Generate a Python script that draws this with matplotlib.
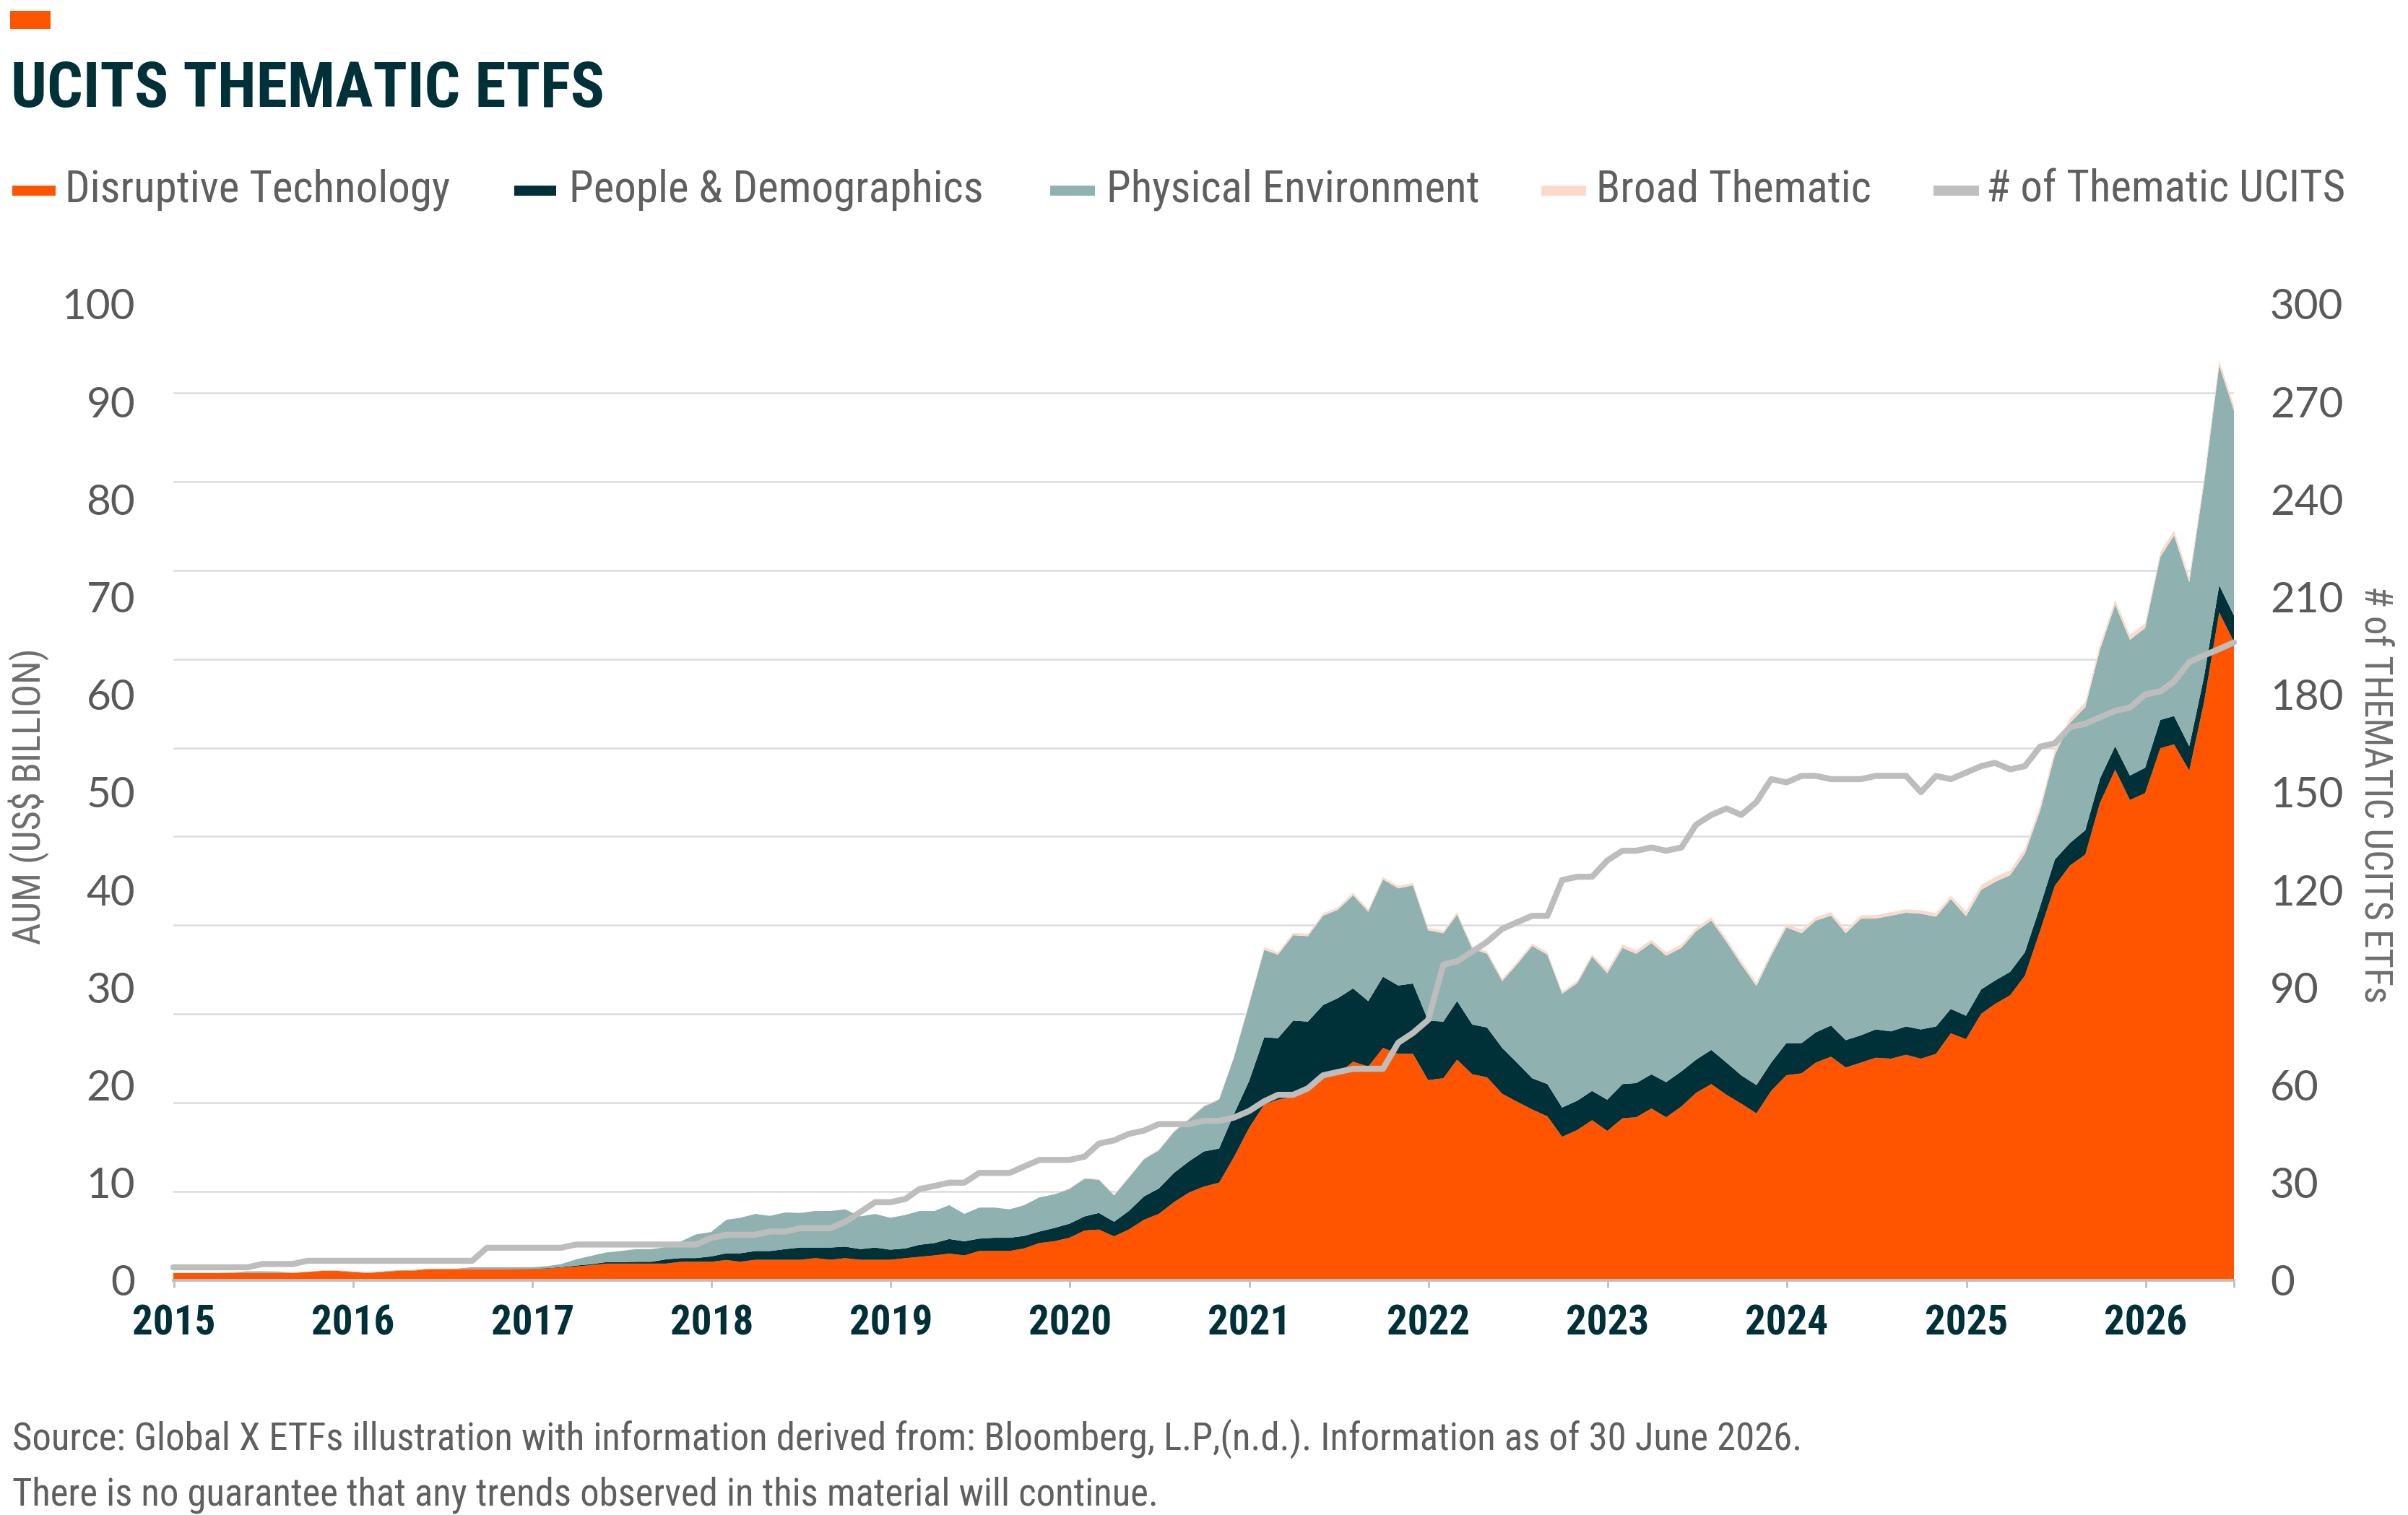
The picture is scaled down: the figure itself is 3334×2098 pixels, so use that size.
import matplotlib
matplotlib.use('Agg')
import matplotlib.pyplot as plt
import matplotlib.dates as mdates
from matplotlib import font_manager
from matplotlib.patches import Rectangle
from matplotlib.ticker import FixedLocator, MultipleLocator
import numpy as np
import pandas as pd

# month-end observations, Dec 2014 .. Jun 2026 (AUM in US$ bn)
dates = pd.date_range('2014-12-31', '2026-06-30', freq='ME')

disruptive = [0.75,
    0.75, 0.75, 0.75, 0.75, 0.75, 0.75, 0.75, 0.75, 0.85, 0.97, 0.97, 0.85,   # 2015
    0.75, 0.85, 0.97, 0.97, 1.14, 1.14, 1.14, 1.14, 1.14, 1.14, 1.14, 1.14,   # 2016
    1.2, 1.3, 1.41, 1.55, 1.71, 1.71, 1.71, 1.71, 1.71, 1.9, 1.9, 1.9,        # 2017
    2.08, 1.9, 2.1, 2.1, 2.1, 2.1, 2.27, 2.1, 2.27, 2.1, 2.1, 2.1,            # 2018
    2.27, 2.4, 2.55, 2.73, 2.55, 3.0, 3.0, 3.0, 3.27, 3.82, 4.0, 4.36,        # 2019
    5.1, 5.2, 4.5, 5.2, 6.2, 6.8, 8.0, 9.0, 9.6, 10.0, 12.6, 15.6,            # 2020
    18.0, 18.5, 18.8, 19.4, 20.8, 21.1, 22.4, 21.9, 23.8, 23.2, 23.2, 20.5,   # 2021
    20.7, 22.6, 21.1, 20.8, 19.1, 18.3, 17.5, 16.8, 14.7, 15.4, 16.4, 15.3,   # 2022
    16.6, 16.7, 17.6, 16.7, 17.8, 19.2, 20.1, 19.0, 18.1, 17.1, 19.4, 21.0,   # 2023
    21.2, 22.3, 22.9, 21.8, 22.3, 22.8, 22.7, 23.1, 22.7, 23.2, 25.3, 24.7,   # 2024
    27.3, 28.3, 29.2, 31.2, 35.8, 40.4, 42.5, 43.6, 48.9, 52.3, 49.2, 49.9,   # 2025
    54.5, 54.9, 52.2, 59.2, 68.4, 65.4]                                       # 2026

people = [0,
    0, 0, 0, 0, 0, 0, 0, 0, 0, 0, 0, 0,
    0, 0, 0, 0, 0, 0, 0, 0, 0.01, 0.01, 0.02, 0.03,
    0.05, 0.05, 0.1, 0.1, 0.15, 0.15, 0.19, 0.19, 0.44, 0.38, 0.38, 0.55,
    0.69, 0.87, 0.9, 0.9, 1.1, 1.26, 1.09, 1.26, 1.18, 1.1, 1.26, 1.04,
    1.0, 1.24, 1.27, 1.5, 1.45, 1.27, 1.36, 1.36, 1.28, 1.18, 1.36, 1.44,
    1.45, 1.7, 1.5, 1.9, 2.4, 2.6, 3.0, 3.2, 3.6, 3.5, 4.4, 4.8,
    6.9, 6.3, 7.8, 7.1, 7.4, 7.8, 7.5, 6.7, 7.3, 7.0, 7.2, 6.1,
    5.8, 6.0, 5.1, 5.1, 4.7, 4.0, 3.2, 3.3, 3.0, 3.0, 3.0, 3.2,
    3.5, 3.5, 3.5, 3.6, 3.6, 3.4, 3.5, 3.3, 2.9, 2.9, 2.9, 3.3,
    3.1, 3.1, 3.2, 2.8, 2.8, 2.9, 2.8, 2.9, 3.0, 2.8, 2.5, 2.4,
    2.5, 2.4, 2.4, 2.4, 2.5, 2.7, 2.3, 2.5, 2.5, 2.4, 2.5, 2.6,
    2.9, 2.9, 2.5, 2.6, 2.8, 2.7]

physical = [0,
    0, 0, 0, 0.05, 0.17, 0.17, 0.15, 0.03, 0.02, 0.03, 0.03, 0.05,
    0.05, 0.05, 0.05, 0.08, 0.02, 0.04, 0.06, 0.2, 0.19, 0.19, 0.18, 0.17,
    0.2, 0.31, 0.64, 0.85, 0.99, 1.14, 1.3, 1.3, 1.25, 1.72, 2.42, 2.5,
    3.43, 3.63, 3.8, 3.6, 3.75, 3.54, 3.74, 3.74, 3.82, 3.35, 3.44, 3.26,
    3.43, 3.46, 3.28, 3.47, 2.8, 3.18, 3.09, 2.91, 3.15, 3.5, 3.44, 3.55,
    3.85, 3.4, 2.7, 3.4, 3.8, 3.9, 4.2, 4.3, 4.6, 5.0, 5.8, 7.85,
    8.95, 8.55, 8.75, 8.75, 9.15, 9.05, 9.55, 9.15, 9.95, 9.95, 10.05, 9.25,
    9.05, 8.85, 7.75, 7.55, 6.85, 10.05, 13.55, 13.25, 11.65, 12.05, 13.75, 12.95,
    13.95, 13.25, 13.45, 12.95, 12.65, 13.15, 13.25, 12.35, 11.35, 10.15, 10.95, 11.85,
    11.25, 11.45, 11.25, 10.95, 11.95, 11.35, 11.85, 11.65, 11.85, 11.25, 11.25, 10.2,
    10.2, 10.1, 9.9, 10.1, 9.8, 10.7, 12.3, 12.6, 13.2, 14.5, 13.9, 14.3,
    16.7, 18.5, 16.8, 19.8, 22.5, 21.0]

broad = [0,
    0, 0, 0, 0, 0, 0, 0, 0, 0, 0, 0, 0,
    0, 0, 0, 0, 0, 0, 0, 0, 0, 0, 0, 0,
    0, 0, 0, 0, 0, 0, 0, 0, 0, 0, 0, 0,
    0, 0, 0, 0, 0, 0, 0, 0, 0, 0, 0, 0,
    0, 0, 0, 0, 0, 0, 0, 0, 0, 0, 0, 0.1,
    0.1, 0.1, 0.1, 0.1, 0.1, 0.1, 0.1, 0.1, 0.1, 0.1, 0.1, 0.25,
    0.25, 0.25, 0.25, 0.25, 0.25, 0.25, 0.25, 0.25, 0.25, 0.25, 0.25, 0.25,
    0.25, 0.25, 0.25, 0.25, 0.25, 0.25, 0.25, 0.25, 0.25, 0.25, 0.25, 0.35,
    0.35, 0.35, 0.35, 0.35, 0.35, 0.35, 0.35, 0.35, 0.35, 0.35, 0.35, 0.35,
    0.35, 0.35, 0.35, 0.35, 0.35, 0.35, 0.35, 0.35, 0.35, 0.35, 0.35, 0.5,
    0.5, 0.5, 0.5, 0.5, 0.5, 0.5, 0.5, 0.5, 0.5, 0.5, 0.5, 0.5,
    0.5, 0.5, 0.5, 0.5, 0.5, 0.5]

n_ucits = [4,
    4, 4, 4, 4, 4, 5, 5, 5, 6, 6, 6, 6,
    6, 6, 6, 6, 6, 6, 6, 6, 10, 10, 10, 10,
    10, 10, 11, 11, 11, 11, 11, 11, 11, 11, 11, 13,
    14, 14, 14, 15, 15, 16, 16, 16, 18, 21, 24, 24,
    25, 28, 29, 30, 30, 33, 33, 33, 35, 37, 37, 37,
    38, 42, 43, 45, 46, 48, 48, 48, 49, 49, 50, 52,
    55, 57, 57, 59, 63, 64, 65, 65, 65, 73, 76, 80,
    97, 98, 101, 104, 108, 110, 112, 112, 123, 124, 124, 129,
    132, 132, 133, 132, 133, 140, 143, 145, 143, 147, 154, 153,
    155, 155, 154, 154, 154, 155, 155, 155, 150, 155, 154, 156,
    158, 159, 157, 158, 164, 165, 170, 171, 173, 175, 176, 180,
    181, 184, 190, 192, 194, 196]

labels = ['Disruptive Technology', 'People & Demographics', 'Physical Environment',
          'Broad Thematic', '# of Thematic UCITS']

ORANGE = '#FF5500'
DARK = '#003038'
TEAL = '#8FB2B1'
PINK = '#FCDACB'
GREY = '#BFBFBF'
TXT = '#5F5F5F'

# fonts: condensed face for titles/labels if one is installed
avail = {f.name for f in font_manager.fontManager.ttflist}
COND = next((f for f in ['Roboto Condensed', 'Noto Sans Condensed', 'Open Sans Condensed',
                         'Liberation Sans Narrow', 'Noto Sans', 'Roboto'] if f in avail), 'DejaVu Sans')
NUM = 'Lato' if 'Lato' in avail else 'Roboto'
plt.rcParams['font.family'] = [NUM, 'DejaVu Sans']

W, H = 3334, 2098
def fx(px): return px / W
def fy(py): return 1 - py / H

fig = plt.figure(figsize=(W / 200, H / 200), dpi=200)
fig.patch.set_facecolor('white')
r = fig.canvas.get_renderer()

def fit(t, target, maxsize, vertical=False):
    bb = t.get_window_extent(r)
    size = bb.height if vertical else bb.width
    t.set_fontsize(min(maxsize, t.get_fontsize() * target / size))
    return t

ax = fig.add_axes([fx(240), fy(1773), fx(3093) - fx(240), fy(421) - fy(1773)])
ax.stackplot(dates, disruptive, people, physical, broad,
             colors=[ORANGE, DARK, TEAL, PINK], linewidth=0, zorder=2)
ax.set_xlim(dates[0], dates[-1])
ax.set_ylim(0, 100)

# y labels every 10, light grid lines split the height in 11 bands
ax.yaxis.set_major_locator(MultipleLocator(10))
ax.yaxis.set_minor_locator(FixedLocator(np.linspace(0, 100, 12)))
ax.grid(axis='y', which='minor', color='#DCDCDC', lw=0.9)
ax.set_axisbelow(True)
ax.tick_params(axis='y', which='both', length=0)
ax.tick_params(axis='y', which='major', pad=19, labelsize=21, labelcolor='#595959')

ax.xaxis.set_major_locator(mdates.YearLocator())
ax.xaxis.set_major_formatter(mdates.DateFormatter('%Y'))
ax.xaxis.set_minor_locator(FixedLocator([mdates.date2num(dates[-1])]))
ax.tick_params(axis='x', which='both', length=3.6, width=1, color=GREY, direction='out')
ax.tick_params(axis='x', which='major', pad=8, labelsize=20.5, labelcolor=DARK)
for lbl in ax.get_xticklabels():
    lbl.set_fontfamily([COND, 'DejaVu Sans'])
    lbl.set_fontweight('bold')
    lbl.set_fontstretch('condensed')

for s in ['left', 'right', 'top']:
    ax.spines[s].set_visible(False)
ax.spines['bottom'].set_color(GREY)
ax.spines['bottom'].set_linewidth(1.4)
ax.spines['bottom'].set_zorder(3)

ax2 = ax.twinx()
ax2.plot(dates, n_ucits, color='#BDBDBD', lw=3.0, solid_capstyle='round',
         solid_joinstyle='round', clip_on=False)
ax2.set_ylim(0, 300)
ax2.yaxis.set_major_locator(MultipleLocator(30))
ax2.tick_params(axis='y', length=0, pad=18, labelsize=21, labelcolor='#595959')
for s in ax2.spines.values():
    s.set_visible(False)

# header
fig.add_artist(Rectangle((fx(14), fy(40)), fx(70) - fx(14), fy(15) - fy(40),
                         transform=fig.transFigure, color=ORANGE, lw=0))
t = fig.text(fx(15), fy(148), 'UCITS THEMATIC ETFS', fontsize=33, fontweight='bold',
             color=DARK, family=[COND, 'DejaVu Sans'], fontstretch='condensed', va='baseline')
fit(t, 822, 34)

# legend drawn by hand to keep the original spacing
handles = [(17, 77, ORANGE), (712, 770, DARK), (1454, 1516, TEAL), (2134, 2196, PINK), (2677, 2740, GREY)]
text_x = [90, 788, 1532, 2210, 2750]
text_w = [540, 586, 522, 386, 497]
items = []
for (x0, x1, c), tx, lab in zip(handles, text_x, labels):
    fig.add_artist(Rectangle((fx(x0), fy(271)), fx(x1) - fx(x0), fy(257) - fy(271),
                             transform=fig.transFigure, color=c, lw=0))
    items.append(fig.text(fx(tx), fy(280), lab, fontsize=21, color=TXT, va='baseline',
                          family=[COND, 'DejaVu Sans'], fontstretch='condensed'))
leg_size = min(fit(it, w, 23).get_fontsize() for it, w in zip(items, text_w))
for it in items:
    it.set_fontsize(leg_size)

# axis titles
t = fig.text(fx(40), fy(1103), 'AUM (US\\$ BILLION)', rotation=90, ha='center', va='center',
             fontsize=18, color='#6E6E6E', family=[COND, 'DejaVu Sans'], fontstretch='condensed')
fit(t, 427, 19, vertical=True)
t = fig.text(fx(3288), fy(1100), '# of THEMATIC UCITS ETFs', rotation=270, ha='center', va='center',
             fontsize=18, color='#6E6E6E', family=[COND, 'DejaVu Sans'], fontstretch='condensed')
fit(t, 605, 19, vertical=True)

# footnotes
t1 = fig.text(fx(17), fy(2008), 'Source: Global X ETFs illustration with information derived from: '
              'Bloomberg, L.P,(n.d.). Information as of 30 June 2026.', fontsize=19, color=TXT,
              va='baseline', family=[COND, 'DejaVu Sans'], fontstretch='condensed')
fit(t1, 2517, 19)
fig.text(fx(17), fy(2085), 'There is no guarantee that any trends observed in this material will continue.',
         fontsize=t1.get_fontsize(), color=TXT, va='baseline',
         family=[COND, 'DejaVu Sans'], fontstretch='condensed')

fig.savefig('out.png', dpi=200, facecolor='white')
